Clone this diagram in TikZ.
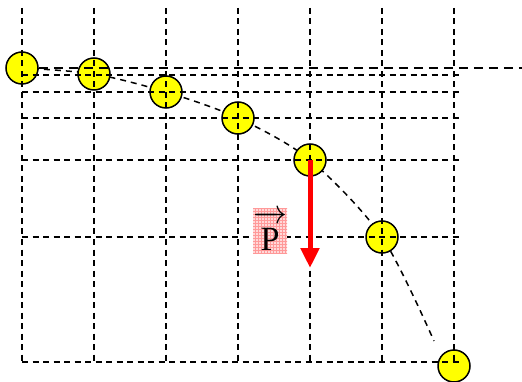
\RequirePackage{fix-cm}
\documentclass[tikz,border=0pt]{standalone}
\usepackage{amsmath}
\usepackage{fontspec}
\newfontfamily\pjserif{Liberation Serif}
\usetikzlibrary{arrows.meta, patterns}
\definecolor{ballyellow}{RGB}{255,255,0}
\definecolor{forcered}{RGB}{255,0,0}
\tikzset{
    pjgrid/.style={dash pattern=on 6pt off 4.5pt, line width=1.6pt},
    pjhorizon/.style={dash pattern=on 9pt off 6pt, line width=2.2pt},
    pjpath/.style={dash pattern=on 6pt off 5pt, line width=1.5pt},
    pjball/.style={circle, draw, fill=ballyellow, minimum size=32pt, inner sep=0pt, line width=1.5pt},
    pjforce/.style={-{Triangle[length=20pt, width=18pt]}, line width=5pt, color=forcered},
    pjlabel/.style={inner sep=0pt, minimum width=34pt, minimum height=45pt, preaction={fill=red!15}, pattern=grid, pattern color=red!40}
}
\begin{document}
\begin{tikzpicture}[x=1pt, y=-1pt]
  \useasboundingbox (0,0) rectangle (522,382);
  \foreach \x/\y [count=\i] in {22/68, 94/74, 166/92, 238/118, 310/160, 382/237, 454/366} {
      \coordinate (p\i) at (\x,\y);
  }
  \coordinate (pend) at (434,341);
  \coordinate (hend) at (522,68);
  \coordinate (fend) at (310,268);
  \draw[pjpath] plot[smooth, tension=0.5] coordinates {(p1) (p2) (p3) (p4) (p5) (p6) (pend)};
  \foreach \i in {1,...,7} {
      \node[pjball] (b\i) at (p\i) {};
  }
  \foreach \x in {22,94,...,454} {
      \draw[pjgrid] (\x,8) -- (\x,362);
  }
  \foreach \y in {75,92,118,160,237,362} {
      \draw[pjgrid] (22,\y) -- (460,\y);
  }
  \draw[pjhorizon] (b1.east) -- (hend);
  \draw[pjforce] (b5.center) -- (fend);
  \node[pjlabel] (plabel) at (270,231) {\pjserif\fontsize{34}{38}\selectfont$\overrightarrow{\hbox{\vrule width 0pt height 0.8em P}}$};
\end{tikzpicture}
\end{document}
